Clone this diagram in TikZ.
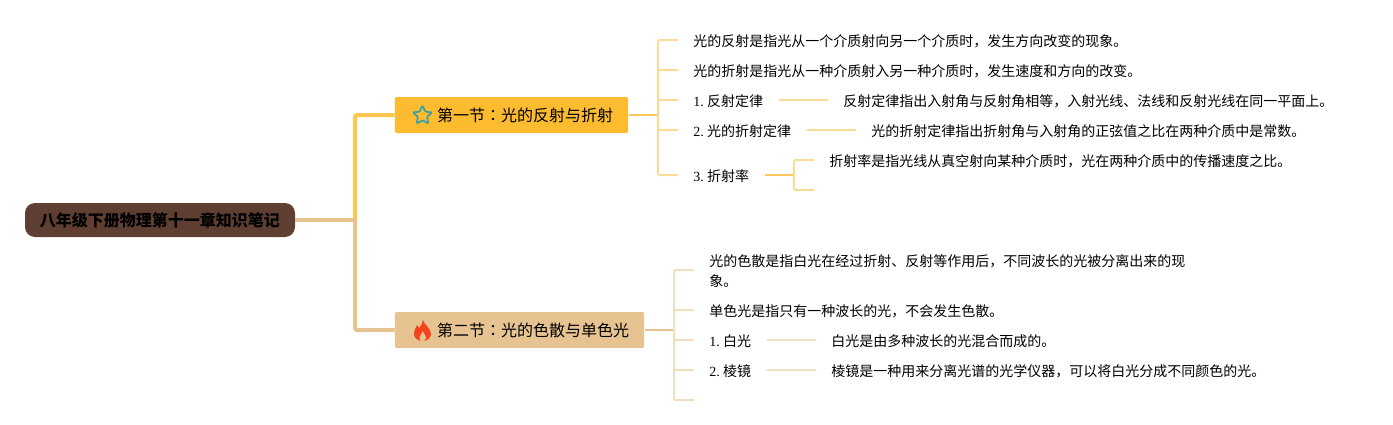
\documentclass[tikz,border=0pt]{standalone}
\usepackage{fontspec}
\setmainfont{Noto Sans CJK SC}
\newfontfamily\latinfont{Liberation Serif}
\newfontfamily\colonfont{Noto Sans CJK TC}
\usetikzlibrary{shapes.geometric}
\definecolor{rootbrown}{HTML}{5F3F32}
\definecolor{secyellow}{HTML}{FDBC30}
\definecolor{sectan}{HTML}{E6C391}
\definecolor{stemyellow}{HTML}{FBC95F}
\definecolor{leafyellow}{HTML}{FADC98}
\definecolor{leaftan}{HTML}{F0DFC3}
\definecolor{staricon}{HTML}{3F9FA6}
\definecolor{flameicon}{HTML}{F4421A}
\begin{document}
\begin{tikzpicture}[x=.75pt,y=-.75pt,
  rootbox/.style={rounded corners=7.5pt,fill=rootbrown,minimum width=202.5pt,minimum height=25.5pt,inner sep=0pt,text height=11.5pt,text depth=1.7pt,font=\fontsize{12pt}{14pt}\selectfont\bfseries},
  secbox/.style={anchor=west,rounded corners=1.5pt,minimum height=27pt,inner xsep=11.25pt,inner ysep=0pt,text height=11.5pt,text depth=1.7pt,font=\fontsize{12pt}{14pt}\selectfont},
  leaf/.style={anchor=west,inner sep=0pt,text height=11pt,text depth=1.5pt,font=\fontsize{10.5pt}{15pt}\selectfont},
  trunkline/.style={line width=3pt,rounded corners=1.5pt},
  stem/.style={line width=1.9pt},
  twig/.style={line width=1.5pt,rounded corners=1.5pt,shorten >=11.25pt}]
  \useasboundingbox (0,0) rectangle (1393,425);

  \node[rootbox] (root) at (160,220) {八年级下册物理第十一章知识笔记};
  \node[secbox,fill=secyellow] (secA) at (394.5,115) {\hspace*{20.6pt}第一节{\colonfont ：}光的反射与折射};
  \node[secbox,fill=sectan] (secB) at (394.5,330) {\hspace*{20.6pt}第二节{\colonfont ：}光的色散与单色光};

  \coordinate (trunk) at (355,220);
  \coordinate (hubA) at (658,115);
  \coordinate (hubB) at (674,330);
  \coordinate (hubC) at (794,175);
  \draw[trunkline,secyellow!85!white] (trunk) |- (secA.west);
  \draw[trunkline,sectan] (trunk) |- (secB.west);
  \draw[trunkline,sectan] (root.east) -- (trunk);

  % first section
  \node[leaf] (a1) at (693,40) {光的反射是指光从一个介质射向另一个介质时，发生方向改变的现象。};
  \node[leaf] (a2) at (693,70) {光的折射是指光从一种介质射入另一种介质时，发生速度和方向的改变。};
  \node[leaf] (a3) at (693,100) {{\latinfont 1.\hspace{2.6pt}}反射定律};
  \node[leaf] (a4) at (693,130) {{\latinfont 2.\hspace{2.6pt}}光的折射定律};
  \node[leaf] (a5) at (693,175) {{\latinfont 3.\hspace{2.6pt}}折射率};
  \node[leaf] (a31) at (843,100) {反射定律指出入射角与反射角相等，入射光线、法线和反射光线在同一平面上。};
  \node[leaf] (a41) at (871,130) {光的折射定律指出折射角与入射角的正弦值之比在两种介质中是常数。};
  \node[leaf] (a51) at (829,160) {折射率是指光线从真空射向某种介质时，光在两种介质中的传播速度之比。};
  \coordinate (a52) at (829,190);

  \draw[stem,stemyellow] (secA.east) -- (hubA);
  \foreach \n in {a1,a2,a3,a4,a5}
    \draw[twig,leafyellow] (hubA) |- (\n.west);
  \draw[twig,leafyellow,shorten <=11.25pt] (a3.east) -- (a31.west);
  \draw[twig,leafyellow,shorten <=11.25pt] (a4.east) -- (a41.west);
  \draw[stem,stemyellow,shorten <=11.25pt] (a5.east) -- (hubC);
  \draw[twig,leafyellow] (hubC) |- (a51.west);
  \draw[twig,leafyellow] (hubC) |- (a52);

  % second section
  \node[leaf,align=left,text height=,text depth=] (b1) at (709,271) {光的色散是指白光在经过折射、反射等作用后，不同波长的光被分离出来的现\\象。};
  \node[leaf] (b2) at (709,310) {单色光是指只有一种波长的光，不会发生色散。};
  \node[leaf] (b3) at (709,340) {{\latinfont 1.\hspace{2.6pt}}白光};
  \node[leaf] (b4) at (709,370) {{\latinfont 2.\hspace{2.6pt}}棱镜};
  \coordinate (b5) at (709,400);
  \node[leaf] (b31) at (831,340) {白光是由多种波长的光混合而成的。};
  \node[leaf] (b41) at (831,370) {棱镜是一种用来分离光谱的光学仪器，可以将白光分成不同颜色的光。};

  \draw[stem,sectan] (secB.east) -- (hubB);
  \draw[twig,leaftan] (hubB) |- ([yshift=.75pt]b1.west);
  \foreach \n in {b2,b3,b4,b5}
    \draw[twig,leaftan] (hubB) |- (\n.west);
  \draw[twig,leaftan,shorten <=11.25pt] (b3.east) -- (b31.west);
  \draw[twig,leaftan,shorten <=11.25pt] (b4.east) -- (b41.west);

  % icons
  \node[star,star points=5,star point ratio=2.1,draw=staricon,line width=1.3pt,rounded corners=.8pt,inner sep=0pt,minimum size=15pt] (staricn) at (422.5,115.5) {};
  \fill[flameicon] (423,320) .. controls (424,325) and (431,328) .. (431,334)
    .. controls (431,338) and (427,341) .. (422.5,341)
    .. controls (418,341) and (414,338) .. (414,334)
    .. controls (414,330) and (416,328) .. (417,325)
    .. controls (418,326) and (418.5,327) .. (419,328)
    .. controls (421,326) and (423,323) .. (423,320) -- cycle;
  \fill[sectan] (422.5,341.5) .. controls (420.5,341) and (418.5,339.5) .. (419.5,337)
    .. controls (420.5,335) and (422,334) .. (422.5,331)
    .. controls (424,334) and (426.5,336) .. (426,338)
    .. controls (425.5,340) and (424,341) .. (422.5,341.5) -- cycle;
\end{tikzpicture}
\end{document}
